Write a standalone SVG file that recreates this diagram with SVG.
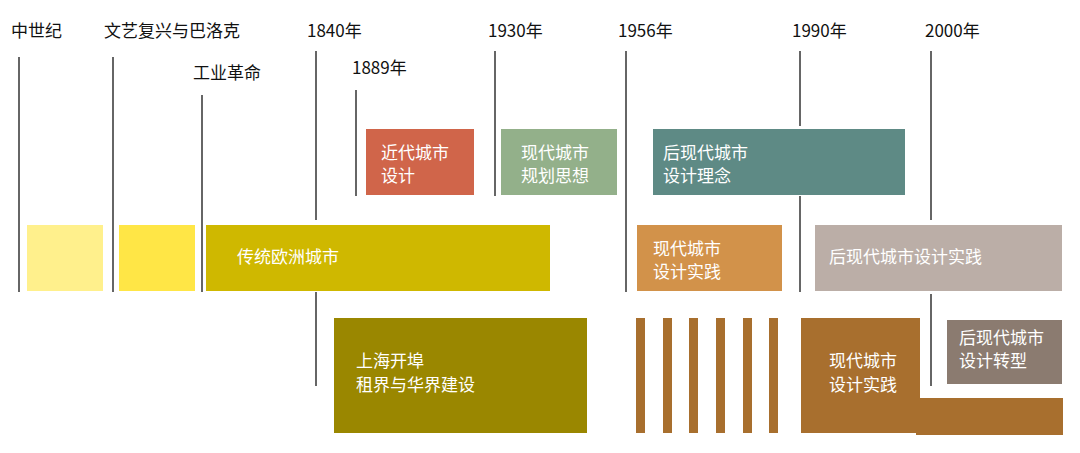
<svg xmlns="http://www.w3.org/2000/svg" width="1080" height="453" viewBox="0 0 1080 453">
<style>
text{font-family:"Noto Sans CJK SC","Noto Sans",sans-serif;font-size:17px}
.l{fill:#111}
.w{fill:#fff}
line{stroke:#333;stroke-width:1.5}
</style>
<rect width="1080" height="453" fill="#fff"/>
<g id="connectors">
<line x1="19" y1="57" x2="19" y2="292"/>
<line x1="113" y1="57" x2="113" y2="292"/>
<line x1="202" y1="95" x2="202" y2="292"/>
<line x1="316" y1="51" x2="316" y2="220"/>
<line x1="316" y1="292" x2="316" y2="386"/>
<line x1="356" y1="90" x2="356" y2="196"/>
<line x1="495" y1="51" x2="495" y2="196"/>
<line x1="626" y1="51" x2="626" y2="292"/>
<line x1="800" y1="51" x2="800" y2="126"/>
<line x1="800" y1="196" x2="800" y2="292"/>
<line x1="931" y1="51" x2="931" y2="220"/>
<line x1="931" y1="294" x2="931" y2="386"/>
</g>
<g id="labels">
<text class="l" x="11" y="37">中世纪</text>
<text class="l" x="104" y="37">文艺复兴与巴洛克</text>
<text class="l" x="193" y="79">工业革命</text>
<text class="l" x="307" y="37">1840年</text>
<text class="l" x="352" y="74">1889年</text>
<text class="l" x="488" y="37">1930年</text>
<text class="l" x="618" y="37">1956年</text>
<text class="l" x="792" y="37">1990年</text>
<text class="l" x="925" y="37">2000年</text>
</g>
<g id="n1"><rect x="27" y="225" width="76" height="66" fill="#fff08c"/></g>
<g id="n2"><rect x="119" y="225" width="76" height="66" fill="#ffe646"/></g>
<g id="n3"><rect x="206" y="225" width="344" height="66" fill="#cfb800"/><text class="w" x="237" y="263">传统欧洲城市</text></g>
<g id="n4"><rect x="366" y="129" width="108" height="66" fill="#d0654a"/><text class="w" x="381" y="159">近代城市</text><text class="w" x="381" y="182">设计</text></g>
<g id="n5"><rect x="501" y="129" width="116" height="66" fill="#93b08a"/><text class="w" x="521" y="159">现代城市</text><text class="w" x="521" y="182">规划思想</text></g>
<g id="n6"><rect x="653" y="129" width="252" height="66" fill="#5e8a85"/><text class="w" x="663" y="159">后现代城市</text><text class="w" x="663" y="182">设计理念</text></g>
<g id="n7"><rect x="637" y="225" width="145" height="66" fill="#d2924a"/><text class="w" x="653" y="255">现代城市</text><text class="w" x="653" y="278">设计实践</text></g>
<g id="n8"><rect x="815" y="225" width="247" height="66" fill="#bbaea7"/><text class="w" x="829" y="263">后现代城市设计实践</text></g>
<g id="n9"><rect x="334" y="318" width="253" height="115" fill="#9a8700"/><text class="w" x="356" y="367">上海开埠</text><text class="w" x="356" y="391">租界与华界建设</text></g>
<g id="n10" fill="#a86f2e">
<rect x="636" y="318" width="9" height="115"/><rect x="663" y="318" width="9" height="115"/><rect x="689" y="318" width="9" height="115"/><rect x="716" y="318" width="9" height="115"/><rect x="743" y="318" width="9" height="115"/><rect x="769" y="318" width="9" height="115"/>
</g>
<g id="n11"><path d="M801 318H920V398H1063V435H916V433H801Z" fill="#a86f2e"/><text class="w" x="829" y="367">现代城市</text><text class="w" x="829" y="391">设计实践</text></g>
<g id="n12"><rect x="947" y="320" width="115" height="64" fill="#8b7b70"/><text class="w" x="959" y="344">后现代城市</text><text class="w" x="959" y="367">设计转型</text></g>
</svg>
